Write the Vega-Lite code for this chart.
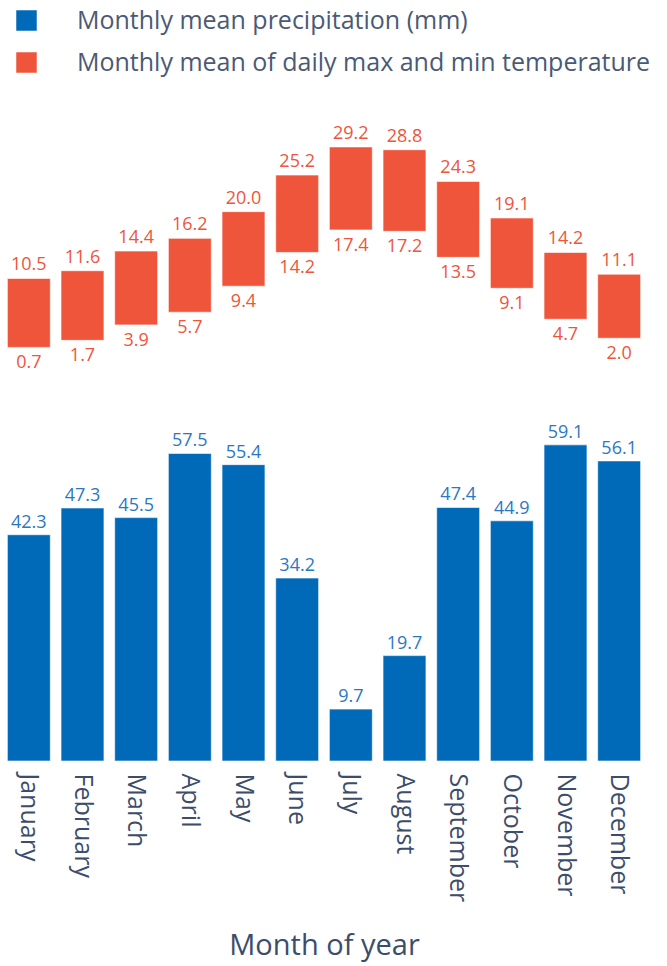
{
  "$schema": "https://vega.github.io/schema/vega-lite/v6.json",
  "padding": {"left": 2, "top": 8, "right": 20, "bottom": 5},
  "background": "white",
  "config": {
    "view": {"stroke": null},
    "font": "Open Sans",
    "concat": {"spacing": 28}
  },
  "data": {
    "values": [
      {"month": "January", "precip": 42.3, "tmin": 0.7, "tmax": 10.5},
      {"month": "February", "precip": 47.3, "tmin": 1.7, "tmax": 11.6},
      {"month": "March", "precip": 45.5, "tmin": 3.9, "tmax": 14.4},
      {"month": "April", "precip": 57.5, "tmin": 5.7, "tmax": 16.2},
      {"month": "May", "precip": 55.4, "tmin": 9.4, "tmax": 20.0},
      {"month": "June", "precip": 34.2, "tmin": 14.2, "tmax": 25.2},
      {"month": "July", "precip": 9.7, "tmin": 17.4, "tmax": 29.2},
      {"month": "August", "precip": 19.7, "tmin": 17.2, "tmax": 28.8},
      {"month": "September", "precip": 47.4, "tmin": 13.5, "tmax": 24.3},
      {"month": "October", "precip": 44.9, "tmin": 9.1, "tmax": 19.1},
      {"month": "November", "precip": 59.1, "tmin": 4.7, "tmax": 14.2},
      {"month": "December", "precip": 56.1, "tmin": 2.0, "tmax": 11.1}
    ]
  },
  "vconcat": [
    {
      "width": 644,
      "height": 256,
      "encoding": {
        "x": {
          "field": "month", "type": "nominal", "sort": null,
          "scale": {"paddingInner": 0.2, "paddingOuter": 0.1},
          "axis": null
        }
      },
      "layer": [
        {
          "mark": {"type": "bar", "stroke": "white", "strokeOpacity": 0.6, "strokeWidth": 1},
          "encoding": {
            "y": {"field": "tmin", "type": "quantitative", "scale": {"domain": [-2.8, 33.6], "nice": false, "zero": false}, "axis": null},
            "y2": {"field": "tmax"},
            "color": {
              "datum": "Monthly mean of daily max and min temperature",
              "type": "nominal",
              "scale": {
                "domain": ["Monthly mean precipitation (mm)", "Monthly mean of daily max and min temperature"],
                "range": ["#006ab8", "#ee553b"]
              },
              "legend": {
                "title": null,
                "orient": "top",
                "direction": "vertical",
                "symbolType": "square",
                "symbolSize": 420,
                "symbolStrokeWidth": 0,
                "symbolOffset": 12,
                "labelFontSize": 25,
                "labelFont": "Open Sans",
                "labelColor": "#4b5a74",
                "labelOffset": 38,
                "rowPadding": 16,
                "offset": 40,
                "labelLimit": 800
              }
            }
          }
        },
        {
          "mark": {"type": "text", "baseline": "bottom", "dy": -4, "fontSize": 18, "color": "#ee553b"},
          "encoding": {
            "y": {"field": "tmax", "type": "quantitative"},
            "text": {"field": "tmax", "type": "quantitative", "format": ".1f"}
          }
        },
        {
          "mark": {"type": "text", "baseline": "top", "dy": 7, "fontSize": 18, "color": "#ee553b"},
          "encoding": {
            "y": {"field": "tmin", "type": "quantitative"},
            "text": {"field": "tmin", "type": "quantitative", "format": ".1f"}
          }
        }
      ]
    },
    {
      "width": 644,
      "height": 360,
      "encoding": {
        "x": {
          "field": "month", "type": "nominal", "sort": null,
          "scale": {"paddingInner": 0.2, "paddingOuter": 0.1},
          "axis": {
            "title": "Month of year",
            "titleFontSize": 29,
            "titleFontWeight": "normal",
            "titleColor": "#3c4d6b",
            "titlePadding": 30,
            "labelAngle": 90,
            "labelFontSize": 25,
            "labelColor": "#3c4d6b",
            "labelPadding": 12,
            "labelLimit": 300,
            "ticks": false,
            "domain": false
          }
        }
      },
      "layer": [
        {
          "mark": {"type": "bar", "stroke": "white", "strokeOpacity": 0.6, "strokeWidth": 1},
          "encoding": {
            "y": {"field": "precip", "type": "quantitative", "scale": {"domain": [0, 67.3], "nice": false}, "axis": null},
            "color": {"datum": "Monthly mean precipitation (mm)", "type": "nominal"}
          }
        },
        {
          "mark": {"type": "text", "baseline": "bottom", "dy": -3, "fontSize": 18, "color": "#2b78c2"},
          "encoding": {
            "y": {"field": "precip", "type": "quantitative"},
            "text": {"field": "precip", "type": "quantitative", "format": ".1f"}
          }
        }
      ]
    }
  ]
}
